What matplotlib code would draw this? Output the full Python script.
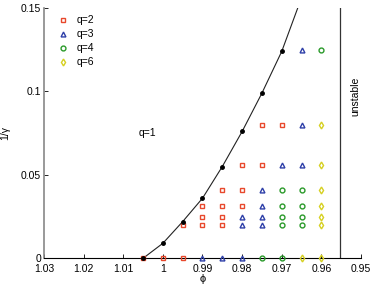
import matplotlib
matplotlib.use("Agg")
import matplotlib.pyplot as plt

plt.rcParams['font.family'] = ['Liberation Sans', 'DejaVu Sans']

# q=1 boundary curve (measured points)
curve_phi = [1.005, 1.0, 0.995, 0.99, 0.985, 0.98, 0.975, 0.97]
curve_y = [0.0, 0.009, 0.022, 0.036, 0.055, 0.076, 0.099, 0.124]
# line continuation beyond the last point
line_phi = curve_phi + [0.9655]
line_y = curve_y + [0.153]

# q=2 (red squares)
q2_phi = [1.005, 1.0, 0.995, 0.995, 0.99, 0.985, 0.99, 0.985, 0.99, 0.985, 0.98,
          0.985, 0.98, 0.98, 0.975, 0.975, 0.97]
q2_y = [0, 0, 0, 0.02, 0.02, 0.02, 0.025, 0.025, 0.0315, 0.0315, 0.0315,
        0.041, 0.041, 0.056, 0.056, 0.08, 0.08]
# q=3 (blue triangles)
q3_phi = [0.99, 0.985, 0.98, 0.98, 0.975, 0.98, 0.975, 0.975, 0.975, 0.97, 0.965, 0.965, 0.965]
q3_y = [0, 0, 0, 0.02, 0.02, 0.025, 0.025, 0.0315, 0.041, 0.056, 0.056, 0.08, 0.125]
# q=4 (green circles)
q4_phi = [0.975, 0.97, 0.97, 0.965, 0.97, 0.965, 0.97, 0.965, 0.97, 0.965, 0.96]
q4_y = [0, 0, 0.02, 0.02, 0.025, 0.025, 0.0315, 0.0315, 0.041, 0.041, 0.125]
# q=6 (yellow diamonds)
q6_phi = [0.965, 0.96, 0.96, 0.96, 0.96, 0.96, 0.96, 0.96]
q6_y = [0, 0, 0.02, 0.025, 0.0315, 0.041, 0.056, 0.08]

unstable_phi = 0.9552

xticks = [1.03, 1.02, 1.01, 1.0, 0.99, 0.98, 0.97, 0.96, 0.95]
xticklabels = ['1.03', '1.02', '1.01', '1', '0.99', '0.98', '0.97', '0.96', '0.95']
yticks = [0, 0.05, 0.1, 0.15]
yticklabels = ['0', '0.05', '0.1', '0.15']

fig = plt.figure(figsize=(3.74, 2.87), dpi=100)
ax = fig.add_axes([44/374, 1-258.3/287, (361-44)/374, (258.3-8)/287])

ax.plot(line_phi, line_y, color='#222222', lw=0.8, zorder=2, clip_on=True)
ax.plot(curve_phi, curve_y, ls='none', marker='o', ms=2.5, color='black', zorder=4, clip_on=False)

mk = dict(ls='none', mfc='none', ms=3.5, mew=1.0, clip_on=False, zorder=3)
ax.plot(q2_phi, q2_y, marker='s', color='#e8482c', label='q=2', **mk)
ax.plot(q3_phi, q3_y, marker='^', color='#2e3fa8', label='q=3', **mk)
ax.plot(q4_phi, q4_y, marker='o', color='#2a9a2a', label='q=4', **mk)
ax.plot(q6_phi, q6_y, marker='d', color='#d6d020', label='q=6', **mk)

ax.plot([unstable_phi, unstable_phi], [0, 0.15], color='#333333', lw=0.9, zorder=2)

ax.set_xlim(1.03, 0.95)
ax.set_ylim(0, 0.15)
ax.set_xticks(xticks)
ax.set_xticklabels(xticklabels)
ax.set_yticks(yticks)
ax.set_yticklabels(yticklabels)
ax.tick_params(direction='in', length=3, width=0.6, labelsize=7.5, pad=2)
ax.tick_params(axis='x', pad=4)

for s in ['top', 'right']:
    ax.spines[s].set_visible(False)
ax.spines['left'].set_color('#888888')
ax.spines['left'].set_linewidth(1.2)
ax.spines['bottom'].set_color('black')
ax.spines['bottom'].set_linewidth(0.8)

ax.set_xlabel('ϕ', fontsize=8, labelpad=0)
ax.set_ylabel('1/γ', fontsize=7.5)
ax.yaxis.set_label_coords(-0.108, 0.5)

ax.text(1.004, 0.075, 'q=1', fontsize=7.5, ha='center', va='center')
ax.text(0.9515, 0.097, 'unstable', fontsize=7.5, rotation=90, ha='center', va='center')

leg = ax.legend(loc='upper left', frameon=False, fontsize=7.5, handlelength=1.0,
                handletextpad=0.8, labelspacing=0.38, borderaxespad=0.3,
                bbox_to_anchor=(0.02, 1.0))

fig.savefig('out.png', dpi=100)
